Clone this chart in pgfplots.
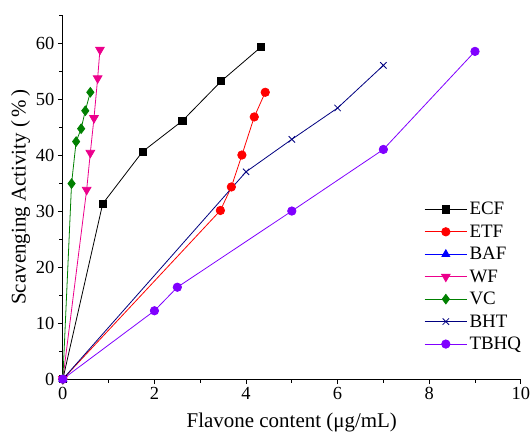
\documentclass[border=0pt]{standalone}
\usepackage{fontspec}
\setmainfont{Liberation Serif}
\usepackage{pgfplots}
\pgfplotsset{compat=1.18}
\definecolor{vcgreen}{RGB}{0,128,0}
\definecolor{bhtnavy}{RGB}{0,0,128}
\definecolor{tbhqviolet}{RGB}{128,0,255}
\begin{document}
\begin{tikzpicture}
\begin{axis}[
  scale only axis,
  width=459pt, height=365pt,
  xmin=0, xmax=10, ymin=0, ymax=65,
  axis lines=left,
  axis line style={-, line width=0.8pt},
  xtick={0,2,...,10}, ytick={0,10,...,60},
  minor xtick={1,3,...,9}, minor ytick={5,15,...,55,65},
  tick align=outside,
  major tick length=5pt, minor tick length=3.5pt,
  tick style={line width=0.8pt, black},
  tick label style={font=\fontsize{18.5}{22}\selectfont},
  xticklabel style={inner xsep=0pt},
  /pgf/number format/assume math mode=true,
  xlabel={Flavone content (μg/mL)},
  ylabel={Scavenging Activity (\,\%\,)},
  label style={font=\fontsize{21}{25}\selectfont},
  xlabel style={yshift=-6pt},
  ylabel style={yshift=-1pt},
  clip=false,
  every axis plot/.append style={line width=0.8pt},
  legend style={draw=none, fill=none, at={(0.782,0.497)}, anchor=north west,
    font=\fontsize{19}{22}\selectfont, row sep=4.5pt},
  legend cell align=left,
  legend image code/.code={\draw[mark repeat=2,mark phase=2] plot coordinates {(0cm,0cm)(0.75cm,0cm)(1.5cm,0cm)};},
]
\addplot[black, mark=square*, mark size=3.6pt] coordinates {(0,0) (0.87,31.3) (1.74,40.6) (2.61,46.1) (3.46,53.2) (4.33,59.3)};
\addlegendentry{ECF}
\addplot[red, mark=*, mark size=4.2pt] coordinates {(0,0) (3.44,30.1) (3.68,34.3) (3.91,40.0) (4.18,46.8) (4.42,51.2)};
\addlegendentry{ETF}
\addplot[blue, mark=triangle*, mark size=4.5pt] coordinates {(0,0)};
\addlegendentry{BAF}
\addplot[magenta, mark=triangle*, mark options={rotate=180}, mark size=5pt] coordinates {(0,0) (0.52,33.8) (0.60,40.4) (0.68,46.6) (0.76,53.7) (0.81,58.8)};
\addlegendentry{WF}
\addplot[vcgreen, mark=diamond*, mark size=4.8pt] coordinates {(0,0) (0.19,34.9) (0.29,42.4) (0.40,44.7) (0.49,47.9) (0.60,51.2)};
\addlegendentry{VC}
\addplot[bhtnavy, mark=x, mark size=4.5pt] coordinates {(0,0) (4,37.0) (5,42.8) (6,48.4) (7,56.0)};
\addlegendentry{BHT}
\addplot[tbhqviolet, mark=*, mark size=4.2pt] coordinates {(0,0) (2,12.2) (2.5,16.4) (5,30.0) (7,41.0) (9,58.5)};
\addlegendentry{TBHQ}
\end{axis}
\path (current axis.south west) ++(-63pt,-61pt);
\path (current axis.south west) ++(467pt,380pt);
\end{tikzpicture}
\end{document}
